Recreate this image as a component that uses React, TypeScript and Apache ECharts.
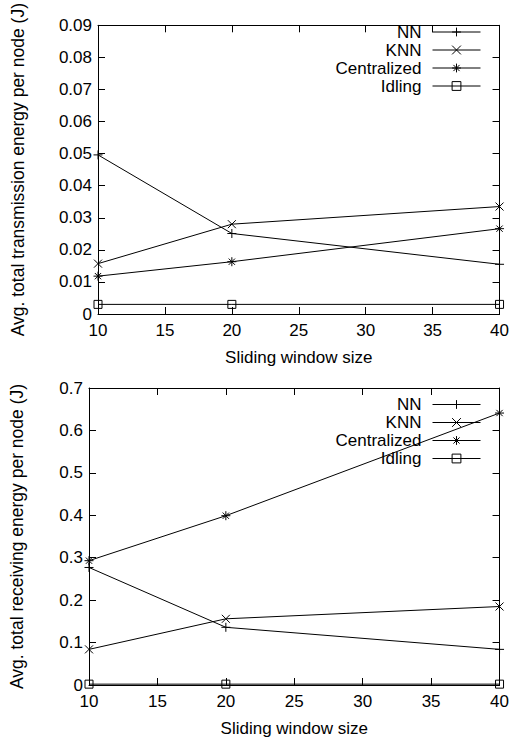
import React, { useEffect, useRef } from "react";
import * as echarts from "echarts";

const windowSizes = [10, 20, 40];
const xTicks = { min: 10, max: 40, interval: 5 };

const txNN = [0.0496, 0.0251, 0.0155];
const txKNN = [0.0157, 0.028, 0.0335];
const txCentralized = [0.0118, 0.0163, 0.0266];
const txIdling = [0.003, 0.003, 0.003];

const rxNN = [0.277, 0.136, 0.084];
const rxKNN = [0.084, 0.156, 0.185];
const rxCentralized = [0.293, 0.399, 0.641];
const rxIdling = [0.002, 0.002, 0.002];

const seriesNames = ["NN", "KNN", "Centralized", "Idling"];
const FONT = "Liberation Sans, Arial, Helvetica, sans-serif";

const SYM_PLUS = "path://M5,0L5,10M0,5L10,5";
const SYM_CROSS = "path://M0,0L10,10M0,10L10,0";
const SYM_STAR = "path://M5,0L5,10M0,5L10,5M1.5,1.5L8.5,8.5M1.5,8.5L8.5,1.5";
const SYM_SQUARE = "path://M0,0L10,0L10,10L0,10Z";
const symbols = [SYM_PLUS, SYM_CROSS, SYM_STAR, SYM_SQUARE];
const symbolSizes = [9, 8, 9, 8];

function pairs(ys: number[]) {
  return windowSizes.map((x, i) => [x, ys[i]]);
}

function makeSeries(idx: number, name: string, ys: number[], axisIdx: number) {
  return {
    type: "line",
    name,
    xAxisIndex: axisIdx,
    yAxisIndex: axisIdx,
    data: pairs(ys),
    symbol: symbols[idx],
    symbolSize: symbolSizes[idx],
    showAllSymbol: true,
    color: "#000",
    lineStyle: { color: "#000", width: 1 },
    itemStyle: { color: "none", borderColor: "#000", borderWidth: 1 },
    emphasis: { disabled: true },
    z: 3,
  };
}

function xAxes(gridIndex: number) {
  const base = {
    type: "value",
    gridIndex,
    min: xTicks.min,
    max: xTicks.max,
    interval: xTicks.interval,
    splitLine: { show: false },
    axisLine: { show: true, onZero: false, lineStyle: { color: "#000", width: 1 } },
    axisTick: { show: true, inside: true, length: 7, lineStyle: { color: "#000", width: 1 } },
  };
  return [
    {
      ...base,
      position: "bottom",
      name: "Sliding window size",
      nameLocation: "middle",
      nameGap: 35,
      nameTextStyle: { fontFamily: FONT, fontSize: 17, color: "#000" },
      axisLabel: { fontFamily: FONT, fontSize: 17, color: "#000", margin: 8 },
    },
    { ...base, position: "top", axisLabel: { show: false } },
  ];
}

function yAxes(gridIndex: number, max: number, interval: number, digits: number, name: string, nameGap: number) {
  const base = {
    type: "value",
    gridIndex,
    min: 0,
    max,
    interval,
    splitLine: { show: false },
    axisLine: { show: true, onZero: false, lineStyle: { color: "#000", width: 1 } },
    axisTick: { show: true, inside: true, length: 7, lineStyle: { color: "#000", width: 1 } },
  };
  return [
    {
      ...base,
      position: "left",
      name,
      nameLocation: "middle",
      nameGap,
      nameTextStyle: { fontFamily: FONT, fontSize: 17.5, color: "#000" },
      axisLabel: {
        fontFamily: FONT,
        fontSize: 17,
        color: "#000",
        margin: 6,
        formatter: (v: number) => (Math.abs(v) < 1e-12 ? "0" : v.toFixed(digits)),
      },
    },
    { ...base, position: "right", axisLabel: { show: false } },
  ];
}

function legend(top: number) {
  return {
    orient: "vertical",
    right: 26,
    top,
    align: "right",
    itemWidth: 48,
    itemHeight: 11,
    itemGap: 1,
    selectedMode: false,
    data: seriesNames,
    lineStyle: { width: 1, color: "#000" },
    itemStyle: { color: "none", borderColor: "#000", borderWidth: 1 },
    textStyle: { fontFamily: FONT, fontSize: 17, lineHeight: 15, color: "#000", padding: [0, 6, 0, 0] },
  };
}

export default function App() {
  const ref = useRef<HTMLDivElement>(null);
  useEffect(() => {
    if (!ref.current) return;
    const chart = echarts.init(ref.current, undefined, { renderer: "svg" });
    chart.setOption({
      animation: false,
      backgroundColor: "#fff",
      grid: [
        { left: 98, right: 11.3, top: 15, height: 299 },
        { left: 89, right: 11.3, top: 388, height: 297 },
      ],
      legend: [legend(18.5), legend(391)],
      xAxis: [...xAxes(0), ...xAxes(1)],
      yAxis: [
        ...yAxes(0, 0.09, 0.01, 2, "Avg. total transmission energy per node (J)", 71),
        ...yAxes(1, 0.7, 0.1, 1, "Avg. total receiving energy per node (J)", 63),
      ],
      series: [
        makeSeries(0, "NN", txNN, 0),
        makeSeries(1, "KNN", txKNN, 0),
        makeSeries(2, "Centralized", txCentralized, 0),
        makeSeries(3, "Idling", txIdling, 0),
        makeSeries(0, "NN", rxNN, 2),
        makeSeries(1, "KNN", rxKNN, 2),
        makeSeries(2, "Centralized", rxCentralized, 2),
        makeSeries(3, "Idling", rxIdling, 2),
      ],
    });
    return () => chart.dispose();
  }, []);
  return (
    <div
      ref={ref}
      style={{ position: "absolute", left: 0, top: 0, width: 512, height: 740 }}
    />
  );
}
